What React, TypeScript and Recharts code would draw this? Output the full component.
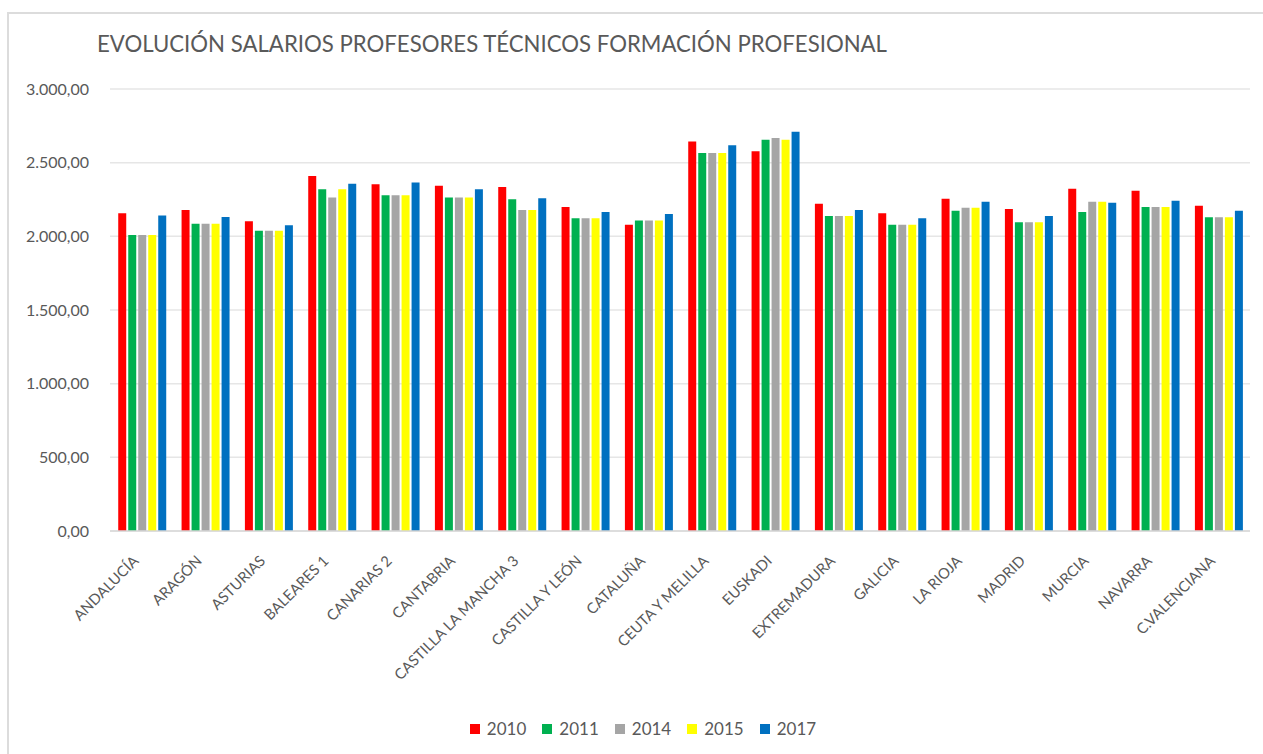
import React from 'react';
import { Bar, BarChart, CartesianGrid, Legend, XAxis, YAxis } from 'recharts';

const regions = [
  'ANDALUCÍA', 'ARAGÓN', 'ASTURIAS', 'BALEARES 1', 'CANARIAS 2', 'CANTABRIA',
  'CASTILLA LA MANCHA 3', 'CASTILLA Y LEÓN', 'CATALUÑA', 'CEUTA Y MELILLA', 'EUSKADI',
  'EXTREMADURA', 'GALICIA', 'LA RIOJA', 'MADRID', 'MURCIA', 'NAVARRA', 'C.VALENCIANA',
];

const s2010 = [2156, 2178, 2102, 2409, 2353, 2343, 2334, 2199, 2079, 2644, 2578, 2221, 2156, 2255, 2185, 2323, 2310, 2208];
const s2011 = [2009, 2086, 2038, 2319, 2278, 2264, 2251, 2122, 2108, 2565, 2655, 2138, 2079, 2174, 2095, 2165, 2199, 2129];
const s2014 = [2009, 2086, 2038, 2264, 2278, 2264, 2178, 2122, 2108, 2565, 2667, 2138, 2079, 2194, 2095, 2235, 2199, 2129];
const s2015 = [2009, 2086, 2038, 2319, 2278, 2264, 2178, 2122, 2108, 2565, 2655, 2138, 2079, 2194, 2095, 2235, 2199, 2129];
const s2017 = [2142, 2131, 2075, 2357, 2366, 2319, 2258, 2165, 2151, 2619, 2710, 2178, 2122, 2235, 2138, 2228, 2242, 2174];

const yTicks = [0, 500, 1000, 1500, 2000, 2500, 3000];

const series = [
  { key: '2010', color: '#FF0000' },
  { key: '2011', color: '#00B050' },
  { key: '2014', color: '#A5A5A5' },
  { key: '2015', color: '#FFFF00' },
  { key: '2017', color: '#0070C0' },
];

const data = regions.map((name, i) => ({
  name,
  '2010': s2010[i],
  '2011': s2011[i],
  '2014': s2014[i],
  '2015': s2015[i],
  '2017': s2017[i],
}));

const FONT = 'Lato, "Open Sans", sans-serif';
const TEXT = '#595959';

// 3000 -> "3.000,00"
const fmt = (v: number) => {
  const int = Math.round(v).toString().replace(/\B(?=(\d{3})+(?!\d))/g, '.');
  return int + ',00';
};

const XTick = (props: any) => {
  const { x, y, payload } = props;
  return (
    <g transform={`translate(${x - 5},${y + 20})`}>
      <text transform="rotate(-45)" textAnchor="end" dy={4} fill={TEXT} fontSize={14.8} fontFamily={FONT}>
        {payload.value}
      </text>
    </g>
  );
};

const LegendContent = (props: any) => (
  <div
    style={{
      display: 'flex', justifyContent: 'center', paddingLeft: 36, marginTop: -3,
      fontFamily: FONT, fontSize: 17, color: TEXT,
    }}
  >
    {(props.payload || []).map((p: any) => (
      <div key={p.value} style={{ display: 'flex', alignItems: 'center', margin: '0 8px' }}>
        <span style={{ width: 10, height: 10, background: p.color, marginRight: 7, display: 'inline-block' }} />
        <span>{p.value}</span>
      </div>
    ))}
  </div>
);

const App = () => (
  <div style={{ position: 'absolute', left: 0, top: 0, width: 1263, height: 754, background: '#fff' }}>
    <div
      style={{
        position: 'absolute', left: 7, top: 12, right: 0, bottom: 0,
        borderTop: '2px solid #dcdcdc', borderLeft: '2px solid #dcdcdc',
      }}
    />
    <div
      style={{
        position: 'absolute', left: 97, top: 30, fontFamily: FONT, fontSize: 22.2,
        color: TEXT, whiteSpace: 'nowrap',
      }}
    >
      EVOLUCIÓN SALARIOS PROFESORES TÉCNICOS FORMACIÓN PROFESIONAL
    </div>
    <BarChart
      width={1263}
      height={754}
      data={data}
      margin={{ top: 89, right: 13, left: 0, bottom: 0 }}
      barCategoryGap="13%"
      barGap={2}
      style={{ position: 'absolute', left: 0, top: 0 }}
    >
      <CartesianGrid vertical={false} stroke="#e6e6e6" strokeWidth={1.5} />
      <XAxis
        dataKey="name"
        interval={0}
        tick={<XTick />}
        tickLine={false}
        axisLine={{ stroke: '#d9d9d9', strokeWidth: 1.5 }}
        height={190}
      />
      <YAxis
        width={110}
        domain={[0, 3000]}
        ticks={yTicks}
        tickFormatter={fmt}
        axisLine={false}
        tickLine={false}
        tickMargin={15}
        tick={{ fill: TEXT, fontSize: 16, fontFamily: FONT }}
      />
      <Legend verticalAlign="bottom" align="center" height={33} content={<LegendContent />} />
      {series.map((s) => (
        <Bar key={s.key} dataKey={s.key} fill={s.color} isAnimationActive={false} />
      ))}
    </BarChart>
  </div>
);

export default App;
